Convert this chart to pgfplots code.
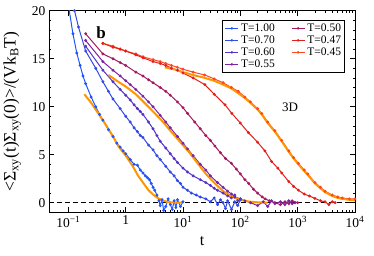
\documentclass[border=0pt]{standalone}
\usepackage{fontspec}
\setmainfont{Liberation Serif}
\usepackage{pgfplots}
\pgfplotsset{compat=1.18}
\definecolor{cA}{RGB}{30,85,255}
\definecolor{cB}{RGB}{50,75,230}
\definecolor{cC}{RGB}{85,50,200}
\definecolor{cD}{RGB}{125,35,160}
\definecolor{cE}{RGB}{165,25,95}
\definecolor{cF}{RGB}{230,30,25}
\definecolor{cG}{RGB}{255,70,30}
\definecolor{fitc}{RGB}{255,150,0}
\pgfplotsset{ds/.style={mark=*, mark size=0.9pt, line width=1pt},
  fs/.style={fitc, line width=2pt, no marks}}
\begin{document}
\begin{tikzpicture}
\begin{axis}[
  scale only axis, width=306pt, height=201.6pt,
  xmode=log, xmin=0.0459, xmax=10000, ymin=-1, ymax=20,
  xtick={0.1,1,10,100,1000,10000},
  xticklabels={10\textsuperscript{−1},1,10\textsuperscript{1},10\textsuperscript{2},10\textsuperscript{3},10\textsuperscript{4}},
  ytick={0,5,10,15,20}, yticklabels={0,5,10,15,20},
  minor y tick num=4,
  tick align=inside, major tick length=5pt, minor tick length=2.5pt,
  tick style={black, line width=0.6pt},
  axis line style={line width=0.8pt},
  ticklabel style={font=\fontsize{13.5}{13.5}\selectfont},
  /pgf/number format/assume math mode=true,
  xlabel={t},
  ylabel={<Σ\textsubscript{xy}(t)Σ\textsubscript{xy}(0)>/(Vk\textsubscript{B}T)},
  xlabel style={at={(axis description cs:0.5,-0.142)}, anchor=center, font=\fontsize{16}{16}\selectfont},
  ylabel style={at={(axis description cs:-0.12,0.5)}, anchor=center, font=\fontsize{17.5}{17.5}\selectfont},
  legend columns=2,
  legend cell align=left,
  legend image code/.code={\draw[mark repeat=2,mark phase=2] plot coordinates {(0pt,0pt)(6.5pt,0pt)(13pt,0pt)};},
  legend style={at={(axis description cs:0.967,0.954)}, anchor=north east,
    draw=black, line width=0.8pt, inner xsep=3pt, inner ysep=2pt,
    nodes={inner sep=0.5pt, text height=8.5pt, text depth=2.5pt, font=\fontsize{11.5}{11.5}\selectfont},
    row sep=0pt,
    /tikz/every even column/.append style={column sep=16pt},
    /tikz/every odd column/.append style={column sep=2pt}},
]
\addlegendimage{cA, mark=*, mark size=0.9pt, line width=0.6pt}\addlegendentry{T=1.00}
\addlegendimage{cE, mark=*, mark size=0.9pt, line width=0.6pt}\addlegendentry{T=0.50}
\addlegendimage{cB, mark=*, mark size=0.9pt, line width=0.6pt}\addlegendentry{T=0.70}
\addlegendimage{cF, mark=*, mark size=0.9pt, line width=0.6pt}\addlegendentry{T=0.47}
\addlegendimage{cC, mark=*, mark size=0.9pt, line width=0.6pt}\addlegendentry{T=0.60}
\addlegendimage{cG, mark=*, mark size=0.9pt, line width=0.6pt}\addlegendentry{T=0.45}
\addlegendimage{cD, mark=*, mark size=0.9pt, line width=0.6pt}\addlegendentry{T=0.55}

\addplot[black, dashed, line width=1pt, dash pattern=on 5pt off 3pt, forget plot] coordinates {(0.0459,0) (10000,0)};

% T=0.45
\addplot[ds, cG, forget plot] coordinates {
(0.4,16.6)(0.6,16.3)(0.8,16.0)(1.0,15.8)(1.5,15.5)(2.0,15.2)(3.0,14.9)(4.0,14.7)(5.0,14.5)(6.3,14.3)(8,14.1)(10,13.9)(15,13.6)(24,13.3)(35,12.9)(50,12.5)(70,12.0)(92,11.6)(120,11.0)(150,10.5)(200,9.8)(236,9.3)(300,8.4)(400,7.5)(526,6.5)(700,5.4)(850,4.7)(1030,4.1)(1300,3.4)(1500,3.0)(2000,2.1)(2500,1.6)(3000,1.2)(4000,0.8)(5000,0.6)(6000,0.5)(8000,0.4)(10000,0.4)};
% T=0.47
\addplot[ds, cF, forget plot] coordinates {
(0.4,16.6)(0.6,16.2)(0.8,16.0)(1.0,15.8)(1.5,15.4)(2.0,15.1)(3.0,14.7)(4.0,14.5)(5.0,14.3)(6.3,14.0)(8,13.8)(10,13.5)(15,13.0)(24,12.3)(35,11.3)(54,10.2)(71,9.3)(100,8.3)(138,7.3)(200,6.3)(268,5.4)(350,4.3)(450,3.6)(526,3.1)(700,2.2)(850,1.7)(1030,1.3)(1300,0.9)(1600,0.7)(2000,0.45)(2500,0.2)(3000,0.1)(3500,-0.2)(4000,0.1)(4500,0.0)};
% T=0.50
\addplot[ds, cE, forget plot] coordinates {
(0.2,17.6)(0.4,15.5)(0.6,15.0)(0.8,14.6)(1.0,14.3)(1.5,13.6)(2.0,13.2)(2.5,12.8)(3.0,12.5)(4.0,12.0)(5.0,11.6)(6.0,11.2)(8,10.5)(10,9.9)(12,9.3)(16,8.4)(20,7.7)(25,7.0)(30,6.5)(36,5.9)(45,5.2)(55,4.6)(70,4.1)(85,3.5)(100,3.0)(120,2.4)(140,2.0)(170,1.4)(200,1.0)(240,0.6)(270,0.4)(320,0.2)(400,0.0)(500,-0.2)(600,0.1)(700,-0.1)(800,0.2)(1000,0.0)};
% T=0.55
\addplot[ds, cD, forget plot] coordinates {
(0.2,16.9)(0.4,14.7)(0.6,13.8)(0.8,13.2)(1.0,12.7)(1.2,12.3)(1.5,11.8)(2.0,11.1)(2.5,10.5)(3.0,10.0)(4.0,9.1)(5.0,8.4)(6.0,7.8)(8,6.9)(10,6.2)(12,5.6)(15,4.9)(20,4.0)(25,3.4)(30,2.8)(40,2.1)(50,1.6)(60,1.2)(70,0.9)(80,0.6)(100,0.4)(120,0.2)(150,0.0)(200,-0.3)(250,0.1)(300,-0.4)(350,0.2)(400,-0.1)(500,0.1)(600,-0.2)(700,0.2)(800,-0.1)(900,0.0)};
% T=0.60
\addplot[ds, cC, forget plot] coordinates {
(0.2,16.3)(0.4,13.8)(0.6,12.6)(0.8,11.8)(1.0,11.2)(1.2,10.7)(1.4,10.2)(1.6,9.8)(1.8,9.5)(2.0,9.2)(2.5,8.4)(3.0,7.7)(3.5,7.0)(4.0,6.4)(5.0,5.7)(6.0,5.1)(7.0,4.6)(8,4.2)(10,3.6)(12,3.2)(15,2.8)(20,2.4)(25,2.1)(30,1.8)(35,1.5)(40,1.3)(50,1.0)(60,0.7)(70,0.5)(80,0.8)(90,0.2)(100,0.4)};
% T=0.70
\addplot[ds, cB, forget plot] coordinates {
(0.1,23.5)(0.128,20.0)(0.15,18.3)(0.2,15.8)(0.3,14.0)(0.4,12.6)(0.5,11.6)(0.6,10.8)(0.8,9.8)(1.0,9.0)(1.2,8.4)(1.4,7.8)(1.6,7.4)(1.8,7.0)(2.0,6.8)(2.5,6.0)(3.0,5.5)(3.5,4.9)(4.0,4.5)(5.0,3.8)(6.0,3.2)(7.0,2.8)(8,2.3)(9,2.0)(10,1.6)(12,1.3)(14,1.0)(17,0.8)(20,0.6)(25,0.4)(30,0.1)(35,0.5)(40,-0.2)(45,0.3)(50,0.0)(55,-0.6)(60,0.2)(70,-0.7)(80,0.1)(90,-0.3)(100,0.3)};
% T=1.00
\addplot[ds, cA, forget plot] coordinates {
(0.1,20.6)(0.12,17.6)(0.14,15.6)(0.16,14.3)(0.18,13.2)(0.2,12.4)(0.25,11.0)(0.3,10.0)(0.35,9.2)(0.4,8.6)(0.5,7.6)(0.6,6.9)(0.7,6.2)(0.8,5.8)(0.9,5.4)(1.0,5.1)(1.2,4.5)(1.4,4.0)(1.6,3.9)(1.8,3.4)(2.0,3.1)(2.2,2.8)(2.4,2.6)(2.6,2.4)(2.8,2.0)(3.0,1.6)(3.2,1.3)(3.5,0.8)(3.8,0.2)(4.0,-0.3)(4.3,0.3)(4.6,-0.8)(5.0,-0.4)(5.5,0.4)(6.0,-0.2)(6.5,-0.7)(7.0,0.2)(7.5,-0.5)(8,0.3)(9,-0.4)(10,0.1)};

% fits
\addplot[fs, forget plot] coordinates {
(0.19,11.3)(0.25,10.4)(0.3,9.7)(0.43,8.3)(0.6,6.9)(0.74,5.9)(1.0,4.9)(1.3,3.9)(1.65,2.8)(2.0,2.1)(2.5,1.3)(3.0,0.85)(3.7,0.45)(4.5,0.2)(5.5,0.08)(6.5,0.03)(8,0.0)(10,0.0)};
\addplot[fs, forget plot] coordinates {
(0.5,13.3)(0.7,12.7)(1.0,12.1)(1.5,11.3)(2.3,10.2)(3.0,9.5)(4.5,8.4)(6.0,7.5)(9,6.3)(13,5.2)(18,4.1)(25,3.0)(36,2.0)(50,1.2)(70,0.65)(100,0.3)(140,0.12)(200,0.04)(300,0.0)};
\addplot[fs, forget plot] coordinates {
(4.8,14.1)(7,13.9)(10,13.6)(15,13.3)(24,13.0)(35,12.7)(50,12.3)(70,11.9)(92,11.4)(120,10.9)(150,10.4)(200,9.7)(236,9.2)(300,8.3)(400,7.4)(526,6.4)(700,5.3)(850,4.6)(1030,4.0)(1300,3.3)(1500,2.9)(2000,2.0)(2500,1.5)(3000,1.1)(4000,0.7)(5000,0.5)(6000,0.4)(8000,0.3)(10000,0.25)};

\node[font=\fontsize{17}{17}\selectfont\bfseries] at (axis cs:0.371,17.68) {b};
\node[font=\fontsize{13}{13}\selectfont] at (axis cs:738,9.92) {3D};
\end{axis}
\path (current axis.south west) ++(-49pt,-42.7pt);
\path (current axis.north east) ++(19pt,10.7pt);
\end{tikzpicture}
\end{document}
